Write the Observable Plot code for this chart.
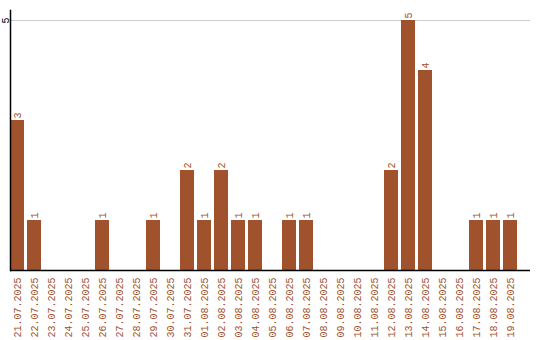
<!DOCTYPE html>
<html><head><meta charset="utf-8">
<script src="https://cdn.jsdelivr.net/npm/d3@7"></script>
<script src="https://cdn.jsdelivr.net/npm/@observablehq/plot@0.6"></script>
<style>body{margin:0;background:#fff}</style>
</head><body><div id="chart"></div>
<script>
const dates = ["21.07.2025","22.07.2025","23.07.2025","24.07.2025","25.07.2025","26.07.2025","27.07.2025","28.07.2025","29.07.2025","30.07.2025","31.07.2025","01.08.2025","02.08.2025","03.08.2025","04.08.2025","05.08.2025","06.08.2025","07.08.2025","08.08.2025","09.08.2025","10.08.2025","11.08.2025","12.08.2025","13.08.2025","14.08.2025","15.08.2025","16.08.2025","17.08.2025","18.08.2025","19.08.2025"];
const counts = [3,1,0,0,0,1,0,0,1,0,2,1,2,1,1,0,1,1,0,0,0,0,2,5,4,0,0,1,1,1];
const yTicks = [5];
const data = dates.map((d,i)=>({date:d, count:counts[i]}));
const nonzero = data.filter(d=>d.count>0);
const color = "#a0522d";
const font = "Liberation Mono, DejaVu Sans Mono, monospace";
const chart = Plot.plot({
  width: 540, height: 340,
  marginLeft: 10, marginRight: 10, marginTop: 10, marginBottom: 70,
  style: {fontFamily: font, background: "#fff"},
  x: {type: "band", domain: dates, range: [10, 517], paddingInner: 0.176, paddingOuter: 0, round: false, axis: null},
  y: {domain: [0, 5.2], axis: null},
  marks: [
    Plot.ruleY(yTicks, {stroke: "#cccccc", strokeWidth: 1}),
    Plot.barY(data, {x: "date", y: "count", fill: color}),
    Plot.text(nonzero, {x: "date", y: "count", text: d=>String(d.count), rotate: -90, textAnchor: "start", lineAnchor: "middle", dy: -2, fill: color, fontSize: 10}),
    Plot.axisX({tickSize: 0, tickPadding: 7, tickRotate: -90, fill: color, fontSize: 10, fontFamily: font, label: null}),
    Plot.text(yTicks, {y: d=>d, text: d=>String(d), frameAnchor: "left", dx: -5, rotate: -90, textAnchor: "middle", lineAnchor: "middle", fill: "#000", fontSize: 10}),
    Plot.ruleY([0], {stroke: "#000", strokeWidth: 1.5}),
    Plot.frame({anchor: "left", stroke: "#000", strokeWidth: 1.5})
  ]
});
document.getElementById("chart").appendChild(chart);
</script>
</body></html>
